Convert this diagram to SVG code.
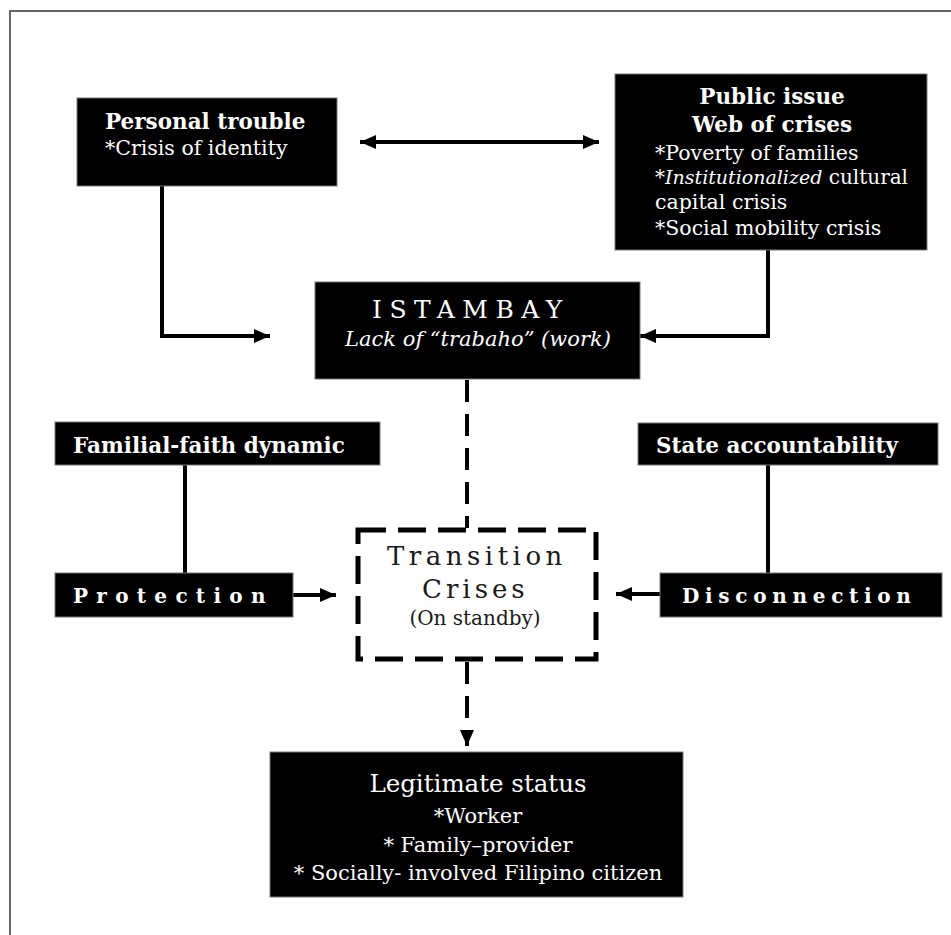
<svg xmlns="http://www.w3.org/2000/svg" width="951" height="935" viewBox="0 0 951 935">
<defs>
<style>
.box{fill:#000;stroke:#777;stroke-width:1}
.t{font-family:"DejaVu Serif","Liberation Serif",serif;fill:#fff}
.b{font-weight:bold}
.c{text-anchor:middle}
.d{fill:#1a1a1a}
.con{fill:none;stroke:#000;stroke-width:4}
.dash{stroke-dasharray:22 12}
</style>
<marker id="ah" viewBox="0 0 16 14" refX="16" refY="7" markerWidth="16" markerHeight="14" markerUnits="userSpaceOnUse" orient="auto-start-reverse">
<path d="M0 0 L16 7 L0 14 Z" fill="#000"/>
</marker>
</defs>
<rect width="951" height="935" fill="#fff"/>
<path d="M10 935 V11 H951" fill="none" stroke="#666" stroke-width="2"/>

<g id="connectors">
<path class="con" d="M360 142 H599" stroke-width="3.5" marker-start="url(#ah)" marker-end="url(#ah)"/>
<path class="con" d="M162 186 V336 H270" marker-end="url(#ah)"/>
<path class="con" d="M768 250 V336 H640" marker-end="url(#ah)"/>
<path class="con" d="M185 465 V573"/>
<path class="con" d="M768 465 V573"/>
<path class="con" d="M293 595 H336" marker-end="url(#ah)"/>
<path class="con" d="M660 594 H616" marker-end="url(#ah)"/>
<path class="con dash" d="M467 380 V528"/>
<path class="con dash" d="M467 662 V746" marker-end="url(#ah)"/>
</g>

<g id="personal">
<rect class="box" x="77" y="98" width="260" height="88"/>
<text class="t b" x="105" y="129" font-size="21.5">Personal trouble</text>
<text class="t" x="105" y="155" font-size="20.5">*Crisis of identity</text>
</g>

<g id="public">
<rect class="box" x="615" y="74" width="312" height="176"/>
<text class="t b c" x="772" y="104" font-size="21.5">Public issue</text>
<text class="t b c" x="772" y="132" font-size="21.5">Web of crises</text>
<text class="t" x="655" y="160" font-size="20.5">*Poverty of families</text>
<text class="t" x="655" y="184" font-size="20"><tspan>*</tspan><tspan font-style="italic" font-size="19">Institutionalized</tspan> cultural</text>
<text class="t" x="655" y="209" font-size="20.5">capital crisis</text>
<text class="t" x="655" y="235" font-size="20.5">*Social mobility crisis</text>
</g>

<g id="istambay">
<rect class="box" x="315" y="282" width="325" height="97"/>
<text class="t" x="372" y="318" font-size="25" letter-spacing="7.5">ISTAMBAY</text>
<text class="t c" x="478" y="346" font-size="21" font-style="italic">Lack of “trabaho” (work)</text>
</g>

<g id="familial">
<rect class="box" x="55" y="422" width="325" height="43"/>
<text class="t b" x="73" y="453" font-size="21.5">Familial-faith dynamic</text>
</g>

<g id="state">
<rect class="box" x="638" y="423" width="300" height="42"/>
<text class="t b" x="656" y="453" font-size="21.5">State accountability</text>
</g>

<g id="protection">
<rect class="box" x="55" y="573" width="238" height="44"/>
<text class="t b" x="73" y="603" font-size="20" letter-spacing="8.3">Protection</text>
</g>

<g id="disconnection">
<rect class="box" x="660" y="573" width="282" height="44"/>
<text class="t b" x="682" y="603" font-size="20" letter-spacing="5.7">Disconnection</text>
</g>

<g id="transition">
<rect x="358" y="530" width="238" height="129" fill="#fff" stroke="#000" stroke-width="5" stroke-dasharray="28 12"/>
<text class="t d" x="387" y="565" font-size="26" letter-spacing="4.5">Transition</text>
<text class="t d" x="422" y="598" font-size="26" letter-spacing="4">Crises</text>
<text class="t c d" x="475" y="625" font-size="20">(On standby)</text>
</g>

<g id="legitimate">
<rect class="box" x="270" y="752" width="413" height="145"/>
<text class="t c" x="478" y="792" font-size="24.5">Legitimate status</text>
<text class="t c" x="478" y="823" font-size="21">*Worker</text>
<text class="t c" x="478" y="852" font-size="21">* Family–provider</text>
<text class="t c" x="478" y="880" font-size="21">* Socially- involved Filipino citizen</text>
</g>
</svg>
